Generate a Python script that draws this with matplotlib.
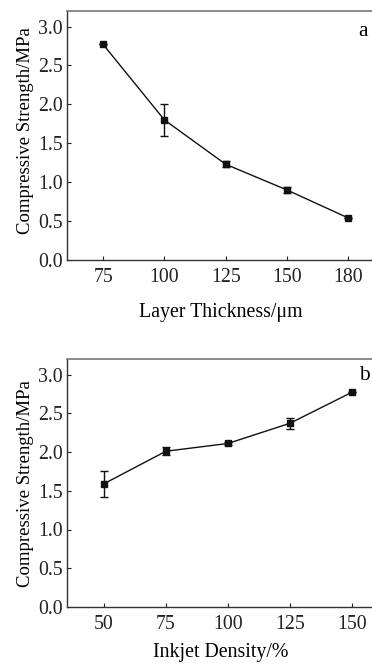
import matplotlib
matplotlib.use("Agg")
import matplotlib.pyplot as plt

plt.rcParams['font.family'] = ['Liberation Serif', 'DejaVu Serif']

# Panel a data
thickness_labels = ['75', '100', '125', '150', '180']
strength_a = [2.77, 1.80, 1.23, 0.90, 0.54]
err_a = [0.0, 0.21, 0.04, 0.04, 0.0]

# Panel b data
density = [50, 75, 100, 125, 150]
strength_b = [1.59, 2.01, 2.11, 2.37, 2.77]
err_b = [0.17, 0.05, 0.02, 0.07, 0.0]

yticks = [0.0, 0.5, 1.0, 1.5, 2.0, 2.5, 3.0]

W, H = 372, 664
fig = plt.figure(figsize=(W / 100, H / 100), dpi=100)

def px_axes(left, top, right, bottom):
    return fig.add_axes([left / W, 1 - bottom / H, (right - left) / W, (bottom - top) / H])

def style(ax):
    ax.set_ylim(0, 3.2)
    ax.set_yticks(yticks)
    ax.set_yticklabels([f"{v:.1f}" for v in yticks])
    ax.tick_params(direction='in', length=3, width=0.8, labelsize=14.3, colors='#222222')
    ax.tick_params(axis='x', pad=6)
    ax.tick_params(axis='y', pad=3)
    for s in ax.spines.values():
        s.set_linewidth(1.0)
        s.set_color('#333333')
    ax.spines['top'].set_color('#777777')
    ax.spines['top'].set_linewidth(1.2)

eb_kw = dict(fmt='-s', color='#111111', lw=1.0, ms=4.2, capsize=3,
             elinewidth=1.0, capthick=1.0)

# Panel a
ax1 = px_axes(67, 11, 385, 260)
xa = list(range(len(thickness_labels)))
ax1.errorbar(xa, strength_a, yerr=err_a, **eb_kw)
ax1.set_xlim(-0.59, 4.6)
ax1.set_xticks(xa)
ax1.set_xticklabels(thickness_labels)
style(ax1)
fig.text(363 / W, 1 - 31 / H, 'a', fontsize=15.5, ha='center', va='center')
fig.text(221 / W, 1 - 312 / H, 'Layer Thickness/μm', fontsize=14.3, ha='center', va='center')
fig.text(26 / W, 1 - 131 / H, 'Compressive Strength/MPa', fontsize=13.5, ha='center', va='center', rotation=90)

# Panel b
ax2 = px_axes(67, 359, 389, 607)
ax2.errorbar(density, strength_b, yerr=err_b, **eb_kw)
ax2.set_xlim(35.1, 165)
ax2.set_xticks(density)
style(ax2)
fig.text(364 / W, 1 - 375 / H, 'b', fontsize=15.5, ha='center', va='center')
fig.text(221 / W, 1 - 653 / H, 'Inkjet Density/%', fontsize=14.3, ha='center', va='center')
fig.text(26 / W, 1 - 484 / H, 'Compressive Strength/MPa', fontsize=13.5, ha='center', va='center', rotation=90)

fig.savefig('out.png', dpi=100, facecolor='white')
